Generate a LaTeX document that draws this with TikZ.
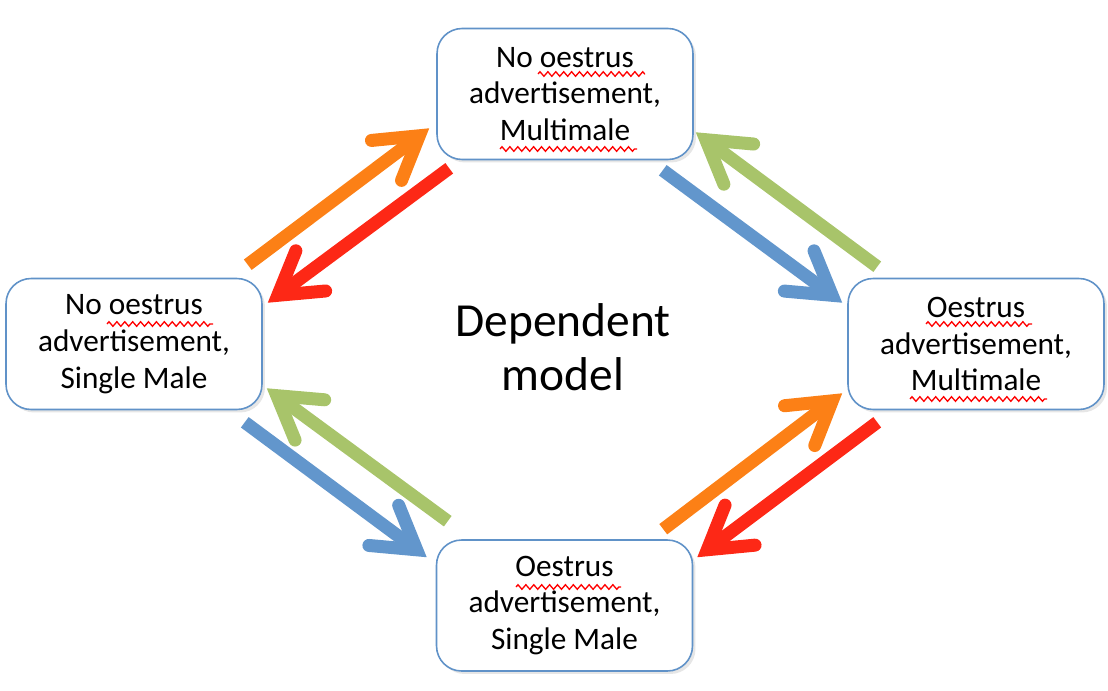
\documentclass[tikz,border=0pt]{standalone}
\usepackage{fontspec}
\setmainfont{Carlito}
\usepackage{xcolor}
\usetikzlibrary{arrows.meta,calc,shadows,decorations.pathmorphing}
\definecolor{boxline}{RGB}{96,146,200}
\definecolor{arrorange}{RGB}{252,128,22}
\definecolor{arrred}{RGB}{253,40,22}
\definecolor{arrblue}{RGB}{98,150,204}
\definecolor{arrgreen}{RGB}{168,196,106}

\begin{document}
\begin{tikzpicture}[x=0.02cm, y=-0.02cm,
    state/.style={draw=boxline, line width=0.9pt, fill=white, rounded corners=0.5cm,
      minimum width=5.12cm, minimum height=2.62cm, align=center,
      font=\fontsize{17.8}{21}\selectfont,
      drop shadow={opacity=0.2, shadow xshift=0.06cm, shadow yshift=-0.06cm}},
    flow/.style={line width=7.4pt, -{Straight Barb[length=0.82cm, width=1cm, line cap=round, line join=miter]}},
    squig/.style={draw=red, line width=0.75pt, decorate, decoration={zigzag, segment length=4.5, amplitude=1.3}}]
  \useasboundingbox (0,0) rectangle (1108,690);
  \node[state] (top) at (565,94) {No oestrus\\advertisement,\\Multimale};
  \node[state] (lft) at (134,344) {No oestrus\\advertisement,\\Single Male};
  \node[state] (rgt) at (976,344) {Oestrus\\advertisement,\\Multimale};
  \node[state] (bot) at (564.5,605.5) {Oestrus\\advertisement,\\Single Male};
  \node[align=center, font=\fontsize{27}{31}\selectfont] (title) at (563,347) {Dependent\\model};
  \draw[squig] (538,74) -- (645,74);
  \draw[squig] (500,149) -- (637,149);
  \draw[squig] (107,324) -- (213,324);
  \draw[squig] (926,324) -- (1032,324);
  \draw[squig] (910,399) -- (1047,399);
  \draw[squig] (516,587) -- (621,587);
  \draw[flow, arrorange] ($(lft.north east)+(-15,-13)$) -- ($(top.south west)+(-7,-32)$);
  \draw[flow, arrred] ($(top.south west)+(13,8)$) -- ($(lft.north east)+(5,25)$);
  \draw[flow, arrblue] ($(top.south east)+(-31,10)$) -- ($(rgt.north west)+(-5,25)$);
  \draw[flow, arrgreen] ($(rgt.north west)+(30,-11)$) -- ($(top.south east)+(2,-28)$);
  \draw[flow, arrgreen] ($(bot.north west)+(12,-18)$) -- ($(lft.south east)+(4,-22)$);
  \draw[flow, arrblue] ($(lft.south east)+(-18,12)$) -- ($(bot.north west)+(-9,18)$);
  \draw[flow, arrorange] ($(bot.north east)+(-30,-10)$) -- ($(rgt.south west)+(-5,-17)$);
  \draw[flow, arrred] ($(rgt.south west)+(30,12)$) -- ($(bot.north east)+(4,18)$);
\end{tikzpicture}
\end{document}
